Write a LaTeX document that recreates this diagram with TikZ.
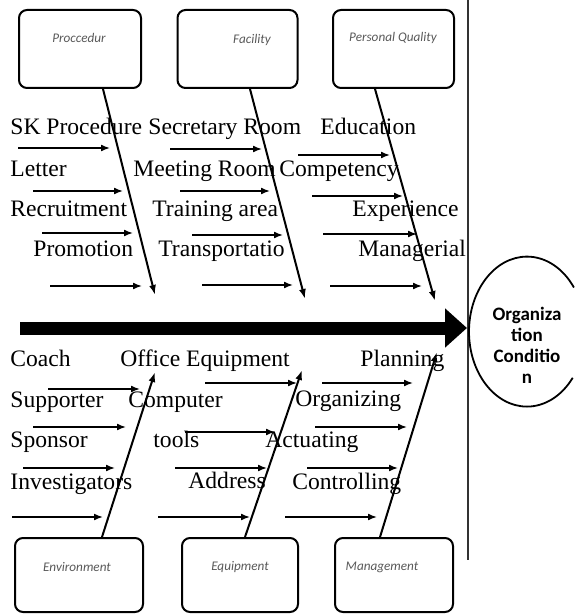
\documentclass[tikz,border=0pt]{standalone}
\usepackage{fontspec}
\setmainfont{Liberation Serif}
\newfontfamily\boxfont{Carlito}[ItalicFont={Carlito Italic}, BoldFont={Carlito Bold}]
\usetikzlibrary{shapes, arrows.meta, positioning}

\begin{document}
\begin{tikzpicture}[x=0.5pt, y=-0.5pt,
  cause/.style={draw, line width=1pt, rounded corners=4pt, minimum width=61pt, minimum height=39pt, inner sep=0pt},
  causetext/.style={font=\boxfont\itshape\fontsize{6.6}{8}\selectfont, text=black!65, inner sep=0pt},
  item/.style={font=\fontsize{11.8}{14}\selectfont, inner sep=0pt, anchor=mid west},
  bone/.style={line width=1pt, -{Latex[length=5pt,width=3.5pt]}},
  twig/.style={line width=0.8pt, -{Latex[length=4.5pt,width=3.5pt]}},
  spine/.style={line width=6.5pt, -{Triangle[length=11pt,width=19pt]}},
  orgtext/.style={font=\boxfont\bfseries\fontsize{9.5}{10.5}\selectfont, align=center, inner sep=0pt}]
  \useasboundingbox (0,0) rectangle (574,614);

  % cause boxes
  \node (procedur) at (80,49) [cause] {};
  \node (facility) at (237.5,49) [cause, minimum width=60pt] {};
  \node (personal) at (393.5,49) [cause, minimum width=60.5pt] {};
  \node (environment) at (79,575) [cause, minimum width=64pt, minimum height=37pt] {};
  \node (equipment) at (240,575) [cause, minimum width=58pt, minimum height=37pt] {};
  \node (management) at (394,575) [cause, minimum width=59pt, minimum height=37pt] {};

  \node (procedurtext) at (79,38) [causetext] {Proccedur};
  \node (facilitytext) at (252,40) [causetext] {Facility};
  \node (personaltext) at (393,38) [causetext] {Personal Quality};
  \node (environmenttext) at (77,567) [causetext] {Environment};
  \node (equipmenttext) at (240,567) [causetext] {Equipment};
  \node (managementtext) at (382,567) [causetext] {Management};

  % effect
  \coordinate (spinestart) at (20,328);
  \coordinate (spinehead) at (467,328);
  \coordinate (dividertop) at (468,0);
  \coordinate (dividerbottom) at (468,560);
  \node (orgshape) at (527,332) [ellipse, minimum width=58pt, minimum height=75pt, inner sep=0pt] {};
  \node (org) at (527,345) [orgtext] {Organiza\\tion\\Conditio\\n};

  \draw[line width=0.6pt, black!80] (dividertop) -- (dividerbottom);
  \draw[spine] (spinestart) -- (spinehead);
  \draw[line width=0.9pt] (orgshape.north) arc[start angle=90, end angle=322, x radius=29pt, y radius=37.5pt];
  \draw[line width=0.9pt] (orgshape.north) arc[start angle=90, end angle=36, x radius=29pt, y radius=37.5pt];

  % bones
  \coordinate (procedurtip) at (155,295);
  \coordinate (facilitytip) at (305,299);
  \coordinate (personaltip) at (435,301);
  \coordinate (environmenttip) at (155,372);
  \coordinate (equipmenttip) at (302,370);
  \coordinate (managementtip) at (437,352);
  \draw[bone] ([xshift=11.5pt]procedur.south) -- (procedurtip);
  \draw[bone] ([xshift=6.25pt]facility.south) -- (facilitytip);
  \draw[bone] ([xshift=-9.25pt]personal.south) -- (personaltip);
  \draw[bone] ([xshift=11.5pt]environment.north) -- (environmenttip);
  \draw[bone] ([xshift=2.5pt]equipment.north) -- (equipmenttip);
  \draw[bone] ([xshift=-7pt]management.north) -- (managementtip);

  % sub causes, top
  \node (skproc) at (10,130) [item] {SK Procedure};
  \node (letter) at (10,172) [item] {Letter};
  \node (recruit) at (10,212) [item] {Recruitment};
  \node (promo) at (33,252) [item] {Promotion};
  \node (secroom) at (148,130) [item] {Secretary Room};
  \node (meetroom) at (133,172) [item] {Meeting Room};
  \node (training) at (152,212) [item] {Training area};
  \node (transport) at (158,252) [item] {Transportatio};
  \node (educ) at (320,130) [item] {Education};
  \node (compet) at (279,172) [item] {Competency};
  \node (exper) at (352,212) [item] {Experience};
  \node (manag) at (358,252) [item] {Managerial};

  % sub causes, bottom
  \node (coach) at (10,362) [item] {Coach};
  \node (supporter) at (10,403) [item] {Supporter};
  \node (sponsor) at (10,443) [item] {Sponsor};
  \node (investig) at (10,485) [item] {Investigators};
  \node (officeeq) at (120,362) [item] {Office Equipment};
  \node (computer) at (128,403) [item] {Computer};
  \node (tools) at (153,443) [item] {tools};
  \node (address) at (188,484) [item] {Address};
  \node (planning) at (360,362) [item] {Planning};
  \node (organizing) at (295,402) [item] {Organizing};
  \node (actuating) at (265,443) [item] {Actuating};
  \node (controlling) at (292,485) [item] {Controlling};

  % small arrows
  \coordinate (p1a) at (18,148); \coordinate (p1b) at (110,148);
  \coordinate (p2a) at (33,191); \coordinate (p2b) at (123,191);
  \coordinate (p3a) at (42,233); \coordinate (p3b) at (133,233);
  \coordinate (p4a) at (50,286); \coordinate (p4b) at (142,286);
  \coordinate (f1a) at (170,149); \coordinate (f1b) at (262,149);
  \coordinate (f2a) at (180,191); \coordinate (f2b) at (270,191);
  \coordinate (f3a) at (192,235); \coordinate (f3b) at (283,235);
  \coordinate (f4a) at (202,285); \coordinate (f4b) at (293,285);
  \coordinate (q1a) at (298,155); \coordinate (q1b) at (390,155);
  \coordinate (q2a) at (312,196); \coordinate (q2b) at (403,196);
  \coordinate (q3a) at (323,234); \coordinate (q3b) at (417,234);
  \coordinate (q4a) at (330,286); \coordinate (q4b) at (422,286);
  \coordinate (e1a) at (48,389); \coordinate (e1b) at (140,389);
  \coordinate (e2a) at (33,427); \coordinate (e2b) at (126,427);
  \coordinate (e3a) at (23,468); \coordinate (e3b) at (115,468);
  \coordinate (e4a) at (12,517); \coordinate (e4b) at (103,517);
  \coordinate (u1a) at (205,383); \coordinate (u1b) at (297,383);
  \coordinate (u2a) at (185,432); \coordinate (u2b) at (275,432);
  \coordinate (u3a) at (175,468); \coordinate (u3b) at (267,468);
  \coordinate (u4a) at (158,517); \coordinate (u4b) at (250,517);
  \coordinate (m1a) at (322,383); \coordinate (m1b) at (413,383);
  \coordinate (m2a) at (315,427); \coordinate (m2b) at (407,427);
  \coordinate (m3a) at (307,468); \coordinate (m3b) at (398,468);
  \coordinate (m4a) at (285,517); \coordinate (m4b) at (377,517);

  \draw[twig] (p1a) -- (p1b);
  \draw[twig] (p2a) -- (p2b);
  \draw[twig] (p3a) -- (p3b);
  \draw[twig] (p4a) -- (p4b);
  \draw[twig] (f1a) -- (f1b);
  \draw[twig] (f2a) -- (f2b);
  \draw[twig] (f3a) -- (f3b);
  \draw[twig] (f4a) -- (f4b);
  \draw[twig] (q1a) -- (q1b);
  \draw[twig] (q2a) -- (q2b);
  \draw[twig] (q3a) -- (q3b);
  \draw[twig] (q4a) -- (q4b);
  \draw[twig] (e1a) -- (e1b);
  \draw[twig] (e2a) -- (e2b);
  \draw[twig] (e3a) -- (e3b);
  \draw[twig] (e4a) -- (e4b);
  \draw[twig] (u1a) -- (u1b);
  \draw[twig] (u2a) -- (u2b);
  \draw[twig] (u3a) -- (u3b);
  \draw[twig] (u4a) -- (u4b);
  \draw[twig] (m1a) -- (m1b);
  \draw[twig] (m2a) -- (m2b);
  \draw[twig] (m3a) -- (m3b);
  \draw[twig] (m4a) -- (m4b);
\end{tikzpicture}
\end{document}
